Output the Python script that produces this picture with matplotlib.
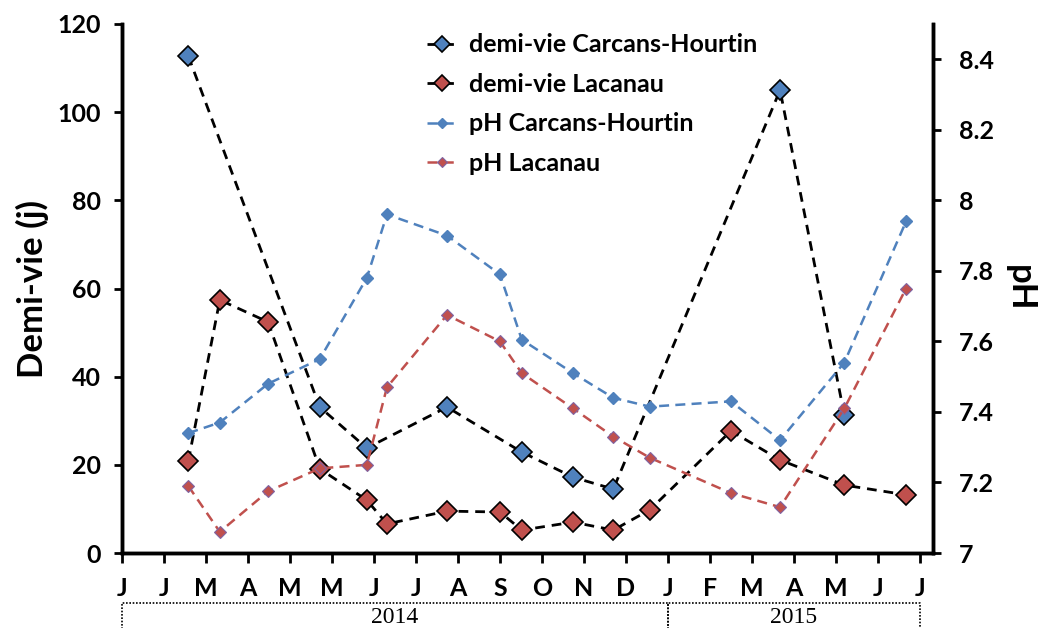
import matplotlib
matplotlib.use('Agg')
import matplotlib.pyplot as plt
import numpy as np

plt.rcParams['font.family'] = ['Lato', 'DejaVu Sans']
plt.rcParams['font.weight'] = 'bold'

# month tick labels (as printed on the original axis)
month_labels = ['J', 'J', 'M', 'A', 'M', 'M', 'J', 'J', 'A', 'S', 'O', 'N', 'D',
                'J', 'F', 'M', 'A', 'M', 'J', 'J']
years = ['2014', '2015']
year_bounds = [(0, 13), (13, 19)]

# sampling dates in months from the first tick
dates = [1.58, 2.33, 3.48, 4.71, 5.83, 6.31, 7.74, 9.0, 9.52, 10.74, 11.7,
         12.57, 14.5, 15.67, 17.2, 18.67]
nan = np.nan
dv_carcans = [112.7, nan, nan, 33.1, 23.8, nan, 33.1, nan, 22.9, 17.2, 14.5,
              nan, nan, 105.0, 31.3, nan]
dv_lacanau = [20.9, 57.4, 52.4, 19.1, 12.0, 6.6, 9.5, 9.3, 5.2, 7.0, 5.2,
              9.8, 27.7, 21.1, 15.4, 13.2]
ph_carcans = [7.34, 7.37, 7.48, 7.55, 7.78, 7.96, 7.90, 7.79, 7.605, 7.51, 7.44,
              7.415, 7.43, 7.32, 7.54, 7.94]
ph_lacanau = [7.19, 7.06, 7.175, 7.24, 7.25, 7.47, 7.675, 7.60, 7.51, 7.41, 7.33,
              7.27, 7.17, 7.13, 7.41, 7.75]

blue = '#4F81BD'
red = '#C0504D'


def valid(xs, ys):
    xs = np.array(xs, dtype=float)
    ys = np.array(ys, dtype=float)
    m = ~np.isnan(ys)
    return xs[m], ys[m]


fig = plt.figure(figsize=(10.46, 6.28), dpi=100)
ax = fig.add_axes([0.1166, 0.1194, 0.7753, 0.8424])
ax2 = ax.twinx()

x, y = valid(dates, dv_carcans)
l1, = ax.plot(x, y, ls=(0, (3.5, 2.5)), color='black', lw=2, marker='D', ms=10,
              mfc=blue, mec='black', mew=1.2, label='demi-vie Carcans-Hourtin')
x, y = valid(dates, dv_lacanau)
l2, = ax.plot(x, y, ls=(0, (3.5, 2.5)), color='black', lw=2, marker='D', ms=10,
              mfc=red, mec='black', mew=1.2, label='demi-vie Lacanau')
x, y = valid(dates, ph_carcans)
l3, = ax2.plot(x, y, ls=(0, (4, 2.5)), color=blue, lw=1.8, marker='D', ms=6,
               mfc=blue, mec=blue, label='pH Carcans-Hourtin')
x, y = valid(dates, ph_lacanau)
l4, = ax2.plot(x, y, ls=(0, (4, 2.5)), color=red, lw=1.8, marker='D', ms=6,
               mfc=red, mec='#8064A2', mew=0.8, label='pH Lacanau')

ax.set_xlim(0, 19.31)
ax.set_ylim(0, 120)
ax2.set_ylim(7, 8.5)
ax.set_xticks(np.arange(len(month_labels)))
ax.set_xticklabels(month_labels)
ax.set_yticks(np.arange(0, 121, 20))
ax2.set_yticks([7, 7.2, 7.4, 7.6, 7.8, 8, 8.2, 8.4])
ax2.set_yticklabels(['7', '7.2', '7.4', '7.6', '7.8', '8', '8.2', '8.4'])

for a in (ax, ax2):
    a.spines['top'].set_visible(False)
    for s in a.spines.values():
        s.set_linewidth(2.5)
ax.tick_params(axis='x', direction='out', length=7, width=2, pad=10, labelsize=18)
ax.tick_params(axis='y', direction='out', length=6, width=2, pad=9, labelsize=18)
ax2.tick_params(axis='y', direction='out', length=6, width=2, pad=13, labelsize=18)

ax.set_ylabel('Demi-vie (j)', fontsize=25, fontweight='bold', labelpad=6)
ax2.set_ylabel('pH', fontsize=25, fontweight='bold', rotation=-90, labelpad=30)

# year brackets below the month labels
trans = ax.get_xaxis_transform()
for name, (x0, x1) in zip(years, year_bounds):
    ax.plot([x0, x0, x1, x1], [-0.2, -0.0945, -0.0945, -0.2], transform=trans,
            color='black', lw=1.2, ls=(0, (1, 1)), clip_on=False)
    ax.text((x0 + x1) / 2, -0.122, name, transform=trans, ha='center', va='center',
            fontsize=17, fontweight='normal', family='Liberation Serif')

leg = ax.legend(handles=[l1, l2, l3, l4], loc='upper left', bbox_to_anchor=(0.348, 1.025),
                frameon=False, fontsize=18, handlelength=1.2, labelspacing=0.66,
                handletextpad=0.5, markerscale=0.8)
for t in leg.get_texts():
    t.set_fontweight('bold')

fig.savefig('out.png', dpi=100)
plt.close(fig)
